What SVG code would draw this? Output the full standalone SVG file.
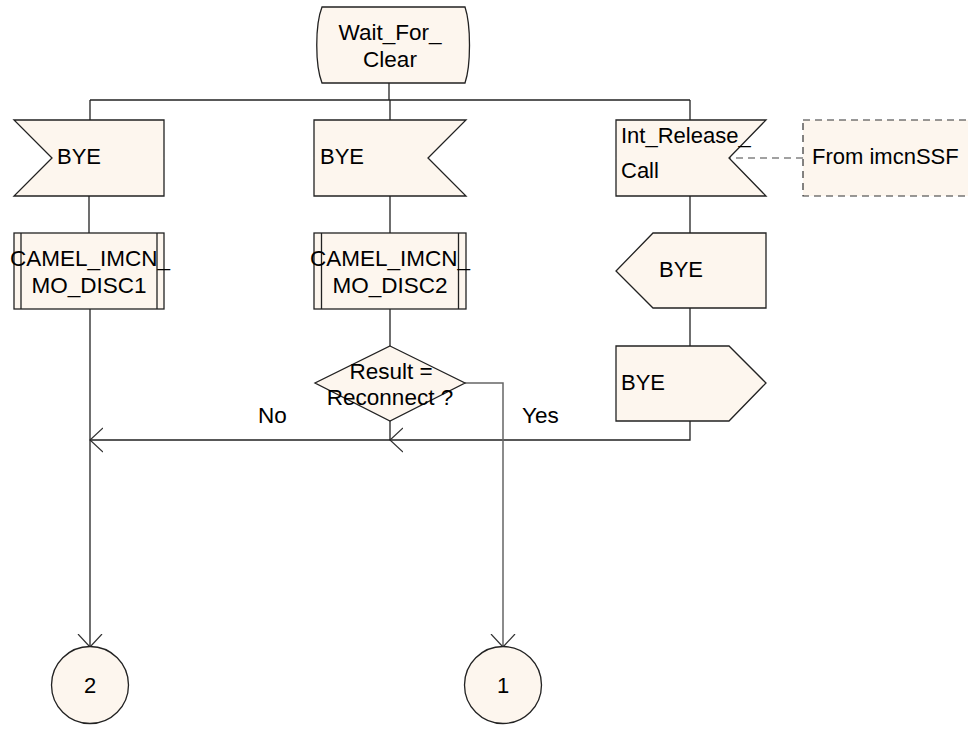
<svg xmlns="http://www.w3.org/2000/svg" width="968" height="736" viewBox="0 0 968 736">
<defs>
<style>
.s{fill:#fdf6ee;stroke:#222;stroke-width:1.3}
.d{fill:#fdf6ee;stroke:#333;stroke-width:1.2;stroke-dasharray:7 5}
.c{fill:none;stroke:#222;stroke-width:1.3}
.g{fill:none;stroke:#666;stroke-width:1.5}
.dl{fill:none;stroke:#444;stroke-width:1.2;stroke-dasharray:7 5}
text{font-family:"Liberation Sans",Arial,sans-serif;font-size:22px;fill:#000}
.m{text-anchor:middle}
.l{font-size:22.5px}
</style>
<marker id="ah" viewBox="0 0 14 26" refX="13" refY="13" markerWidth="14" markerHeight="26" markerUnits="userSpaceOnUse" orient="auto">
<path d="M0,1 L13,13 L0,25" fill="none" stroke="#333" stroke-width="1.2"/>
</marker>
</defs>
<g id="connectors">
<path class="c" d="M389,83 V100"/>
<path class="c" d="M90,100 H690"/>
<path class="c" d="M90,100 V120 M390,100 V120 M690,100 V120"/>
<path class="c" d="M89,196 V233 M390,196 V233 M690,196 V233"/>
<path class="c" d="M690,308 V346"/>
<path class="c" d="M390,309 V346"/>
<path class="c" d="M690,421 V440 H390" marker-end="url(#ah)"/>
<path class="c" d="M390,421 V440 H90" marker-end="url(#ah)"/>
<path class="c" d="M90,309 V647" marker-end="url(#ah)"/>
<path class="g" d="M465,383 H503 V647" marker-end="url(#ah)"/>
<path class="dl" d="M803,158 H729"/>
<text class="l" x="258" y="423">No</text>
<text class="l" x="522" y="423">Yes</text>
</g>
<g id="start">
<path class="s" d="M322,7 H465 C471,25 471,65 465,83 H322 C315,65 315,25 322,7 Z"/>
<text class="m l" x="390" y="40">Wait_For_</text>
<text class="m l" x="390" y="67">Clear</text>
</g>
<g id="bye_in1">
<path class="s" d="M14,120 H164 V196 H14 L52,158 Z"/>
<text x="57" y="164">BYE</text>
</g>
<g id="bye_in2">
<path class="s" d="M314,120 H466 L428,158 L466,196 H314 Z"/>
<text x="320" y="164">BYE</text>
</g>
<g id="int_release">
<path class="s" d="M616,120 H766 L729,158 L766,196 H616 Z"/>
<text x="621" y="143">Int_Release_</text>
<text x="621" y="178">Call</text>
</g>
<g id="from_imcnssf">
<rect class="d" x="803" y="120" width="175" height="76"/>
<text x="812" y="164">From imcnSSF</text>
</g>
<g id="camel1">
<rect class="s" x="14" y="233" width="150" height="76"/>
<path class="c" d="M21,233 V309 M157,233 V309"/>
<text class="m l" x="90" y="266">CAMEL_IMCN_</text>
<text class="m l" x="89" y="293">MO_DISC1</text>
</g>
<g id="camel2">
<rect class="s" x="314" y="233" width="152" height="76"/>
<path class="c" d="M321.5,233 V309 M458.5,233 V309"/>
<text class="m l" x="390" y="266">CAMEL_IMCN_</text>
<text class="m l" x="390" y="293">MO_DISC2</text>
</g>
<g id="bye_out1">
<path class="s" d="M653,233 H766 V308 H653 L616,271 Z"/>
<text x="659" y="277">BYE</text>
</g>
<g id="bye_out2">
<path class="s" d="M616,346 H729 L766,383 L729,421 H616 Z"/>
<text x="621" y="390">BYE</text>
</g>
<g id="decision">
<path class="s" d="M390,346 L465,383 L390,421 L315,383 Z"/>
<text class="m l" x="391" y="379">Result =</text>
<text class="m l" x="390" y="405">Reconnect ?</text>
</g>
<g id="conn2">
<circle class="s" cx="90" cy="685" r="38.5"/>
<text class="m" x="90" y="693">2</text>
</g>
<g id="conn1">
<circle class="s" cx="503" cy="685" r="38.5"/>
<text class="m" x="503" y="693">1</text>
</g>
</svg>
